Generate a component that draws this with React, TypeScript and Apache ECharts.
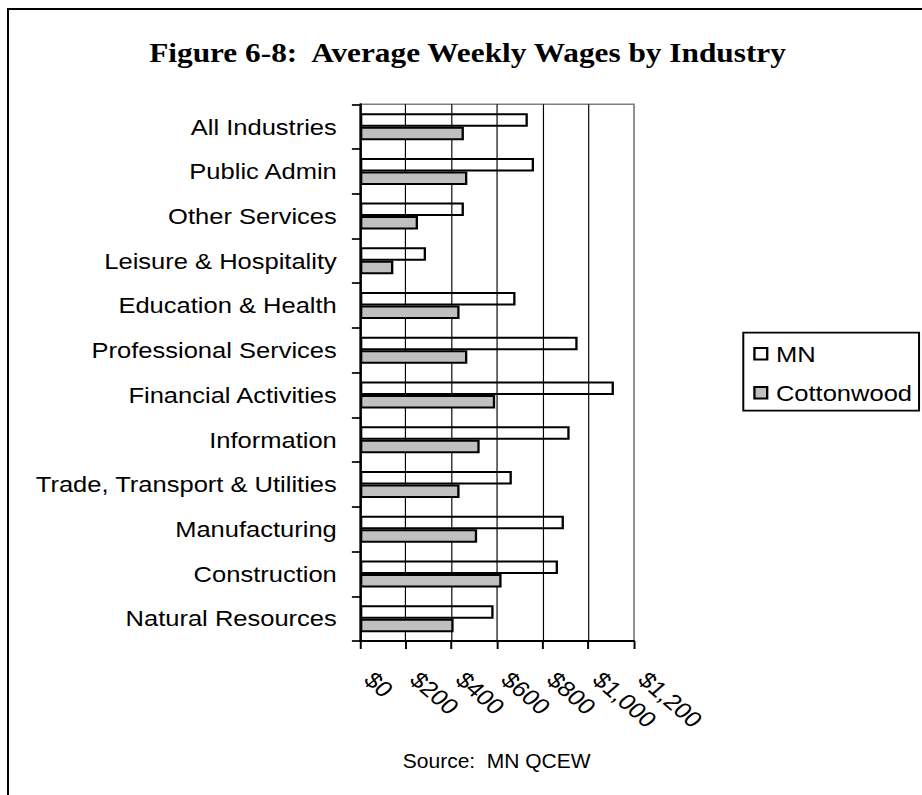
import React, { useEffect, useRef } from "react";
import * as echarts from "echarts";

const categories = [
  "All Industries",
  "Public Admin",
  "Other Services",
  "Leisure & Hospitality",
  "Education & Health",
  "Professional Services",
  "Financial Activities",
  "Information",
  "Trade, Transport & Utilities",
  "Manufacturing",
  "Construction",
  "Natural Resources",
];
const mnWages = [735, 762, 455, 289, 681, 953, 1112, 918, 665, 893, 867, 585];
const cottonwoodWages = [455, 470, 254, 146, 436, 470, 592, 524, 436, 513, 620, 410];
const seriesNames = ["MN", "Cottonwood"];
const titleText = "Figure 6-8:  Average Weekly Wages by Industry";
const sourceText = "Source:  MN QCEW";

const S = 1.16; // horizontal stretch of the reference
const W = 922 / S;

export default function App() {
  const ref = useRef<HTMLDivElement>(null);
  useEffect(() => {
    if (!ref.current) return;
    const chart = echarts.init(ref.current, undefined, { renderer: "svg" });
    const sans = "Liberation Sans";
    chart.setOption({
      animation: false,
      backgroundColor: "transparent",
      grid: {
        left: 360 / S,
        top: 104.3,
        width: 274 / S,
        height: 536.7,
        show: true,
        borderColor: "#808080",
        borderWidth: 1.5,
        containLabel: false,
      },
      legend: {
        orient: "vertical",
        left: 743.3 / S,
        top: 332.7,
        data: seriesNames,
        icon: "rect",
        itemWidth: 11,
        itemHeight: 11.5,
        itemGap: 17,
        padding: [10, 6, 7, 8.6],
        borderColor: "#000",
        borderWidth: 1.7,
        textStyle: { fontFamily: sans, fontSize: 22, color: "#000", padding: [0, 0, 0, 2.5] },
      },
      xAxis: {
        type: "value",
        min: 0,
        max: 1200,
        interval: 200,
        axisLine: { show: true, lineStyle: { color: "#000", width: 2 } },
        axisTick: { show: true, length: 8, lineStyle: { color: "#000", width: 1.7 } },
        splitLine: { show: true, showMaxLine: false, showMinLine: false, lineStyle: { color: "#000", width: 1 } },
        axisLabel: {
          rotate: -45,
          margin: 27,
          padding: [0, 0, 0, 11],
          fontFamily: sans,
          fontSize: 22,
          color: "#000",
          formatter: (v: number) => "$" + v.toLocaleString("en-US"),
        },
      },
      yAxis: {
        type: "category",
        inverse: true,
        data: categories,
        axisLine: { show: true, lineStyle: { color: "#000", width: 2 } },
        axisTick: { show: true, length: 7, lineStyle: { color: "#000", width: 1.7 } },
        splitLine: { show: false },
        axisLabel: { interval: 0, margin: 20, fontFamily: sans, fontSize: 22, color: "#000" },
      },
      series: [
        {
          name: seriesNames[0],
          type: "bar",
          data: mnWages,
          barWidth: 13.5,
          barGap: "0%",
          itemStyle: { color: "rgba(255,255,255,0)", borderColor: "#000", borderWidth: 2 },
          z: 3,
        },
        {
          name: seriesNames[1],
          type: "bar",
          data: cottonwoodWages,
          barWidth: 13.5,
          barGap: "0%",
          itemStyle: { color: "#c0c0c0", borderColor: "#000", borderWidth: 2 },
          z: 3,
        },
      ],
      graphic: [
        {
          type: "text",
          x: 467.5 / S,
          y: 53,
          style: {
            text: titleText,
            font: 'bold 27px "Liberation Serif"',
            fill: "#000",
            textAlign: "center",
            textVerticalAlign: "middle",
          },
        },
        {
          type: "text",
          x: 496.7 / S,
          y: 760,
          scaleX: 1 / S,
          style: {
            text: sourceText,
            font: '21px "Liberation Sans"',
            fill: "#000",
            textAlign: "center",
            textVerticalAlign: "middle",
          },
        },
      ],
    });
    return () => chart.dispose();
  }, []);

  return (
    <div
      style={{
        position: "absolute",
        left: 0,
        top: 0,
        width: 922,
        height: 795,
        overflow: "hidden",
        background: "#fff",
      }}
    >
      <div
        style={{
          position: "absolute",
          left: 7,
          top: 8,
          width: 1000,
          height: 1000,
          borderLeft: "2px solid #000",
          borderTop: "2px solid #000",
        }}
      />
      <div
        ref={ref}
        style={{
          position: "absolute",
          left: 0,
          top: 0,
          width: W,
          height: 795,
          transform: `scaleX(${S})`,
          transformOrigin: "0 0",
        }}
      />
    </div>
  );
}
